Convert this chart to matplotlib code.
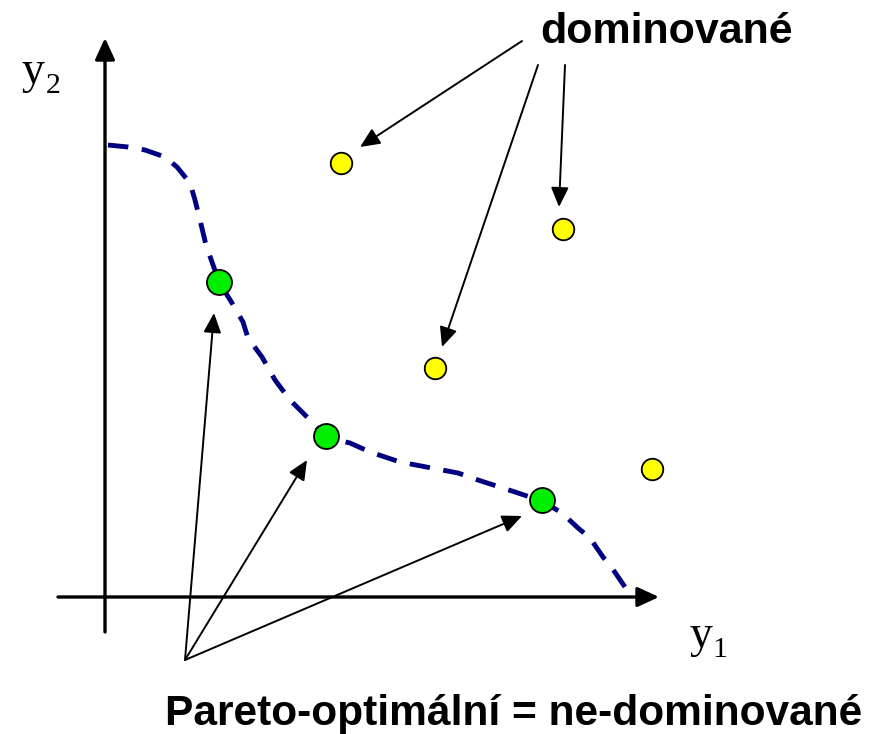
import matplotlib
matplotlib.use("Agg")
import matplotlib.pyplot as plt

# Data coordinates: origin at the axes crossing, units ~ pixels
front_y1 = [3, 23, 40, 60, 72, 85, 90, 95, 101, 107, 114, 127, 138, 143, 157, 170, 185, 200,
            221, 245, 265, 295, 353, 373, 410, 437, 457, 473, 485, 498, 507, 520]
front_y2 = [452, 450, 447, 440, 430, 414, 397, 377, 352, 335, 315, 294, 275, 259, 240, 217, 197, 182,
            160, 154, 145, 135, 124, 117, 105, 96, 84, 69, 59, 40, 29, 10]

pareto_y1 = [114, 221, 437]
pareto_y2 = [315, 161, 97]

dominated_y1 = [236, 458, 330, 547]
dominated_y2 = [434, 368, 229, 128]

dom_label = "dominované"
par_label = "Pareto-optimální = ne-dominované"

# arrow anchors (label end -> target)
dom_starts = [(417, 556), (433, 532), (460, 532)]
dom_ends = [(255, 450), (337, 250), (454, 390)]
par_start = (80, -63)
par_ends = [(109, 284), (202, 137), (417, 81)]

fig = plt.figure(figsize=(8.84, 7.34), dpi=100)
ax = fig.add_axes([0, 0, 1, 1])
ax.set_xlim(-105, 779)
ax.set_ylim(-137, 597)
ax.axis("off")

# axes arrows
ax.annotate("", xy=(0, 559), xytext=(0, -35),
            arrowprops=dict(arrowstyle="-|>,head_length=0.65,head_width=0.3", mutation_scale=20,
                            lw=2.4, color="black", shrinkA=0, shrinkB=0))
ax.annotate("", xy=(554, 0), xytext=(-47, 0),
            arrowprops=dict(arrowstyle="-|>,head_length=0.65,head_width=0.3", mutation_scale=20,
                            lw=2.4, color="black", shrinkA=0, shrinkB=0))

# dashed pareto front
ax.plot(front_y1, front_y2, color="#000080", lw=3.5, linestyle=(0, (4.2, 2.8)),
        dash_capstyle="butt", solid_joinstyle="round", zorder=2)

# arrows
for s, e in zip(dom_starts, dom_ends):
    ax.annotate("", xy=e, xytext=s,
                arrowprops=dict(arrowstyle="-|>,head_length=0.6,head_width=0.27", mutation_scale=20,
                                lw=1.4, color="black", shrinkA=0, shrinkB=0))
for e in par_ends:
    ax.annotate("", xy=e, xytext=par_start,
                arrowprops=dict(arrowstyle="-|>,head_length=0.6,head_width=0.27", mutation_scale=20,
                                lw=1.4, color="black", shrinkA=0, shrinkB=0))

# points
ax.plot(pareto_y1, pareto_y2, "o", ms=18, mfc="#00ee00", mec="black", mew=1.3, zorder=4)
ax.plot(dominated_y1, dominated_y2, "o", ms=15.5, mfc="#ffff00", mec="black", mew=1.3, zorder=4)

# labels
ax.text(435, 554, dom_label, fontsize=31, fontweight="bold", family="Liberation Sans",
        ha="left", va="baseline")
ax.text(60, -128, par_label, fontsize=30.6, fontweight="bold", family="Liberation Sans",
        ha="left", va="baseline")

ax.text(-84, 514, "y", fontsize=33, family="Liberation Serif", ha="left", va="baseline")
ax.text(-59, 504, "2", fontsize=21.5, family="Liberation Serif", ha="left", va="baseline")
ax.text(584, -50, "y", fontsize=33, family="Liberation Serif", ha="left", va="baseline")
ax.text(607, -60, "1", fontsize=21.5, family="Liberation Serif", ha="left", va="baseline")

fig.savefig("out.png", dpi=100)
